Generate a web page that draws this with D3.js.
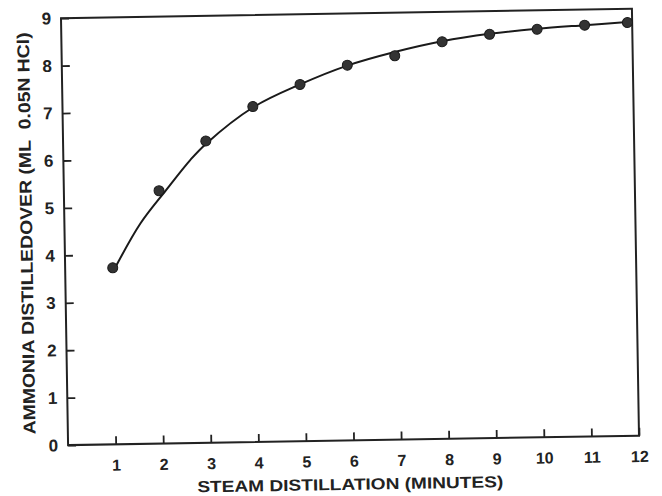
<!DOCTYPE html>
<html>
<head>
<meta charset="utf-8">
<script src="https://cdn.jsdelivr.net/npm/d3@7"></script>
<style>
  body { margin: 0; background: #fff; }
</style>
</head>
<body>
<main></main>
<script>
// measured points
const minutes = [1, 2, 3, 4, 5, 6, 7, 8, 9, 10, 11, 11.9];
const ammonia = [3.72, 5.33, 6.36, 7.07, 7.52, 7.91, 8.09, 8.37, 8.51, 8.60, 8.67, 8.71];
// the hand drawn curve
const curveMin = [1.05, 1.6, 2.14, 2.67, 3, 4, 5, 6, 7, 8, 9, 10, 11, 11.9];
const curveVal = [3.72, 4.65, 5.33, 5.97, 6.3, 7.05, 7.52, 7.9, 8.17, 8.38, 8.52, 8.61, 8.67, 8.72];
const xTickValues = [1, 2, 3, 4, 5, 6, 7, 8, 9, 10, 11, 12];
const yTickValues = [0, 1, 2, 3, 4, 5, 6, 7, 8, 9];
const xTitle = 'STEAM DISTILLATION (MINUTES)';
const yTitle = 'AMMONIA DISTILLEDOVER (ML\u00a0\u00a00.05N HCl)';

const w = 662;
const h = 496;
const ink = '#222';
const font = '"Liberation Sans", Arial, sans-serif';

const svg = d3.select('main').append('svg').attr('width', w).attr('height', h);
svg.append('rect').attr('width', w).attr('height', h).attr('fill', '#fff');

// the scan is slightly tilted
const g = svg.append('g').attr('transform', 'rotate(-0.95, 350.75, 226.9)');

const x = d3.scaleLinear().domain([0, 12]).range([64.5, 635.5]);
const y = d3.scaleLinear().domain([0, 9]).range([440.4, 13.4]);

const xAxis = d3.axisBottom(x).tickValues(xTickValues).tickFormat(d => d).tickSize(-8).tickPadding(15);
const yAxis = d3.axisLeft(y).tickValues(yTickValues).tickFormat(d => d).tickSize(-8).tickPadding(10);

g.append('g')
    .attr('transform', `translate(0, ${y(0)})`)
    .call(xAxis)
    .call(a => a.select('.domain').remove())
    .call(a => a.selectAll('line').attr('stroke', ink).attr('stroke-width', 1.8))
    .call(a => a.selectAll('text')
        .attr('fill', ink)
        .attr('font-family', font)
        .attr('font-weight', 'bold')
        .attr('font-size', 16));

g.append('g')
    .attr('transform', `translate(${x(0)}, 0)`)
    .call(yAxis)
    .call(a => a.select('.domain').remove())
    .call(a => a.selectAll('line').attr('stroke', ink).attr('stroke-width', 1.8))
    .call(a => a.selectAll('text')
        .attr('fill', ink)
        .attr('font-family', font)
        .attr('font-weight', 'bold')
        .attr('font-size', 17));

g.append('rect')
    .attr('x', x(0))
    .attr('y', y(9))
    .attr('width', x(12) - x(0))
    .attr('height', y(0) - y(9))
    .attr('fill', 'none')
    .attr('stroke', ink)
    .attr('stroke-width', 2);

const line = d3.line()
    .x(i => x(curveMin[i]))
    .y(i => y(curveVal[i]))
    .curve(d3.curveCatmullRom);

g.append('path')
    .attr('d', line(d3.range(curveMin.length)))
    .attr('fill', 'none')
    .attr('stroke', '#1a1a1a')
    .attr('stroke-width', 2);

g.append('g')
    .selectAll('circle')
    .data(d3.range(minutes.length))
    .enter()
    .append('circle')
    .attr('cx', i => x(minutes[i]))
    .attr('cy', i => y(ammonia[i]))
    .attr('r', 5)
    .attr('fill', '#333')
    .attr('stroke', '#1a1a1a')
    .attr('stroke-width', 1);

g.append('text')
    .attr('x', 346)
    .attr('y', 484)
    .attr('dy', '0.36em')
    .attr('text-anchor', 'middle')
    .attr('textLength', 306)
    .attr('lengthAdjust', 'spacingAndGlyphs')
    .attr('fill', ink)
    .attr('font-family', font)
    .attr('font-weight', 'bold')
    .attr('font-size', 16)
    .text(xTitle);

g.append('text')
    .attr('transform', 'translate(26, 228) rotate(-90)')
    .attr('dy', '0.36em')
    .attr('text-anchor', 'middle')
    .attr('textLength', 402)
    .attr('lengthAdjust', 'spacingAndGlyphs')
    .attr('fill', ink)
    .attr('font-family', font)
    .attr('font-weight', 'bold')
    .attr('font-size', 17)
    .text(yTitle);
</script>
</body>
</html>
